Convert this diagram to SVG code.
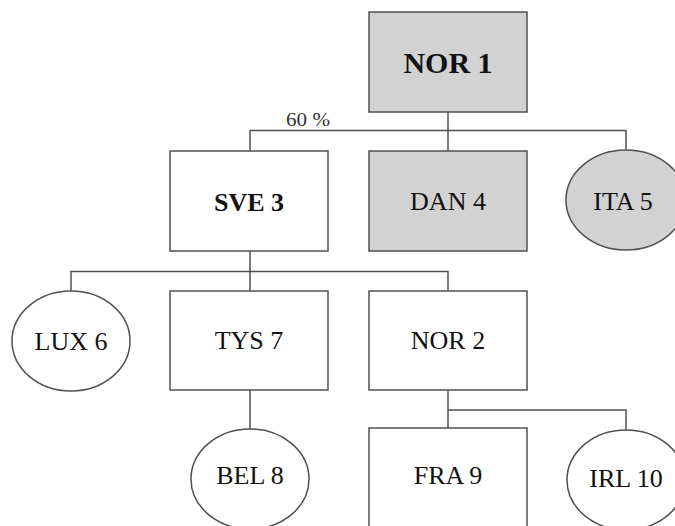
<svg xmlns="http://www.w3.org/2000/svg" width="675" height="526" viewBox="0 0 675 526">
<style>
.box{fill:#ffffff;stroke:#505050;stroke-width:1.5}
.gray{fill:#d3d2d3}
.ln{fill:none;stroke:#505050;stroke-width:1.5}
.t{font-family:"Liberation Serif","Times New Roman",serif;font-size:26px;fill:#111111;text-anchor:middle}
.b{font-weight:bold}
.pct{font-family:"Liberation Serif","Times New Roman",serif;font-size:18px;fill:#333333}
</style>
<rect width="675" height="526" fill="#ffffff"/>
<g id="connectors">
<path class="ln" d="M448,112 V151"/>
<path class="ln" d="M250,151 V130.5 H626 V150"/>
<path class="ln" d="M250,251 V291"/>
<path class="ln" d="M71,291 V271.5 H448 V291"/>
<path class="ln" d="M250,390 V429"/>
<path class="ln" d="M448,390 V428"/>
<path class="ln" d="M448,410 H626 V430"/>
<text class="pct" x="286" y="126" textLength="44" lengthAdjust="spacingAndGlyphs">60 %</text>
</g>
<g id="nor1"><rect class="box gray" x="369" y="12" width="158" height="100"/><text class="t b" x="448" y="73" style="font-size:30px">NOR 1</text></g>
<g id="sve3"><rect class="box" x="170" y="151" width="158" height="100"/><text class="t b" x="249" y="211">SVE 3</text></g>
<g id="dan4"><rect class="box gray" x="369" y="151" width="158" height="100"/><text class="t" x="448" y="210">DAN 4</text></g>
<g id="ita5"><ellipse class="box gray" cx="626" cy="200" rx="60" ry="50"/><text class="t" x="623" y="210">ITA 5</text></g>
<g id="lux6"><ellipse class="box" cx="71" cy="341" rx="59" ry="50"/><text class="t" x="71" y="350">LUX 6</text></g>
<g id="tys7"><rect class="box" x="170" y="291" width="158" height="99"/><text class="t" x="249" y="349">TYS 7</text></g>
<g id="nor2"><rect class="box" x="369" y="291" width="158" height="99"/><text class="t" x="448" y="349">NOR 2</text></g>
<g id="bel8"><ellipse class="box" cx="250" cy="479" rx="59" ry="50"/><text class="t" x="250" y="484">BEL 8</text></g>
<g id="fra9"><rect class="box" x="369" y="428" width="158" height="110"/><text class="t" x="448" y="484">FRA 9</text></g>
<g id="irl10"><ellipse class="box" cx="626" cy="480" rx="59" ry="50"/><text class="t" x="626" y="487">IRL 10</text></g>
</svg>
